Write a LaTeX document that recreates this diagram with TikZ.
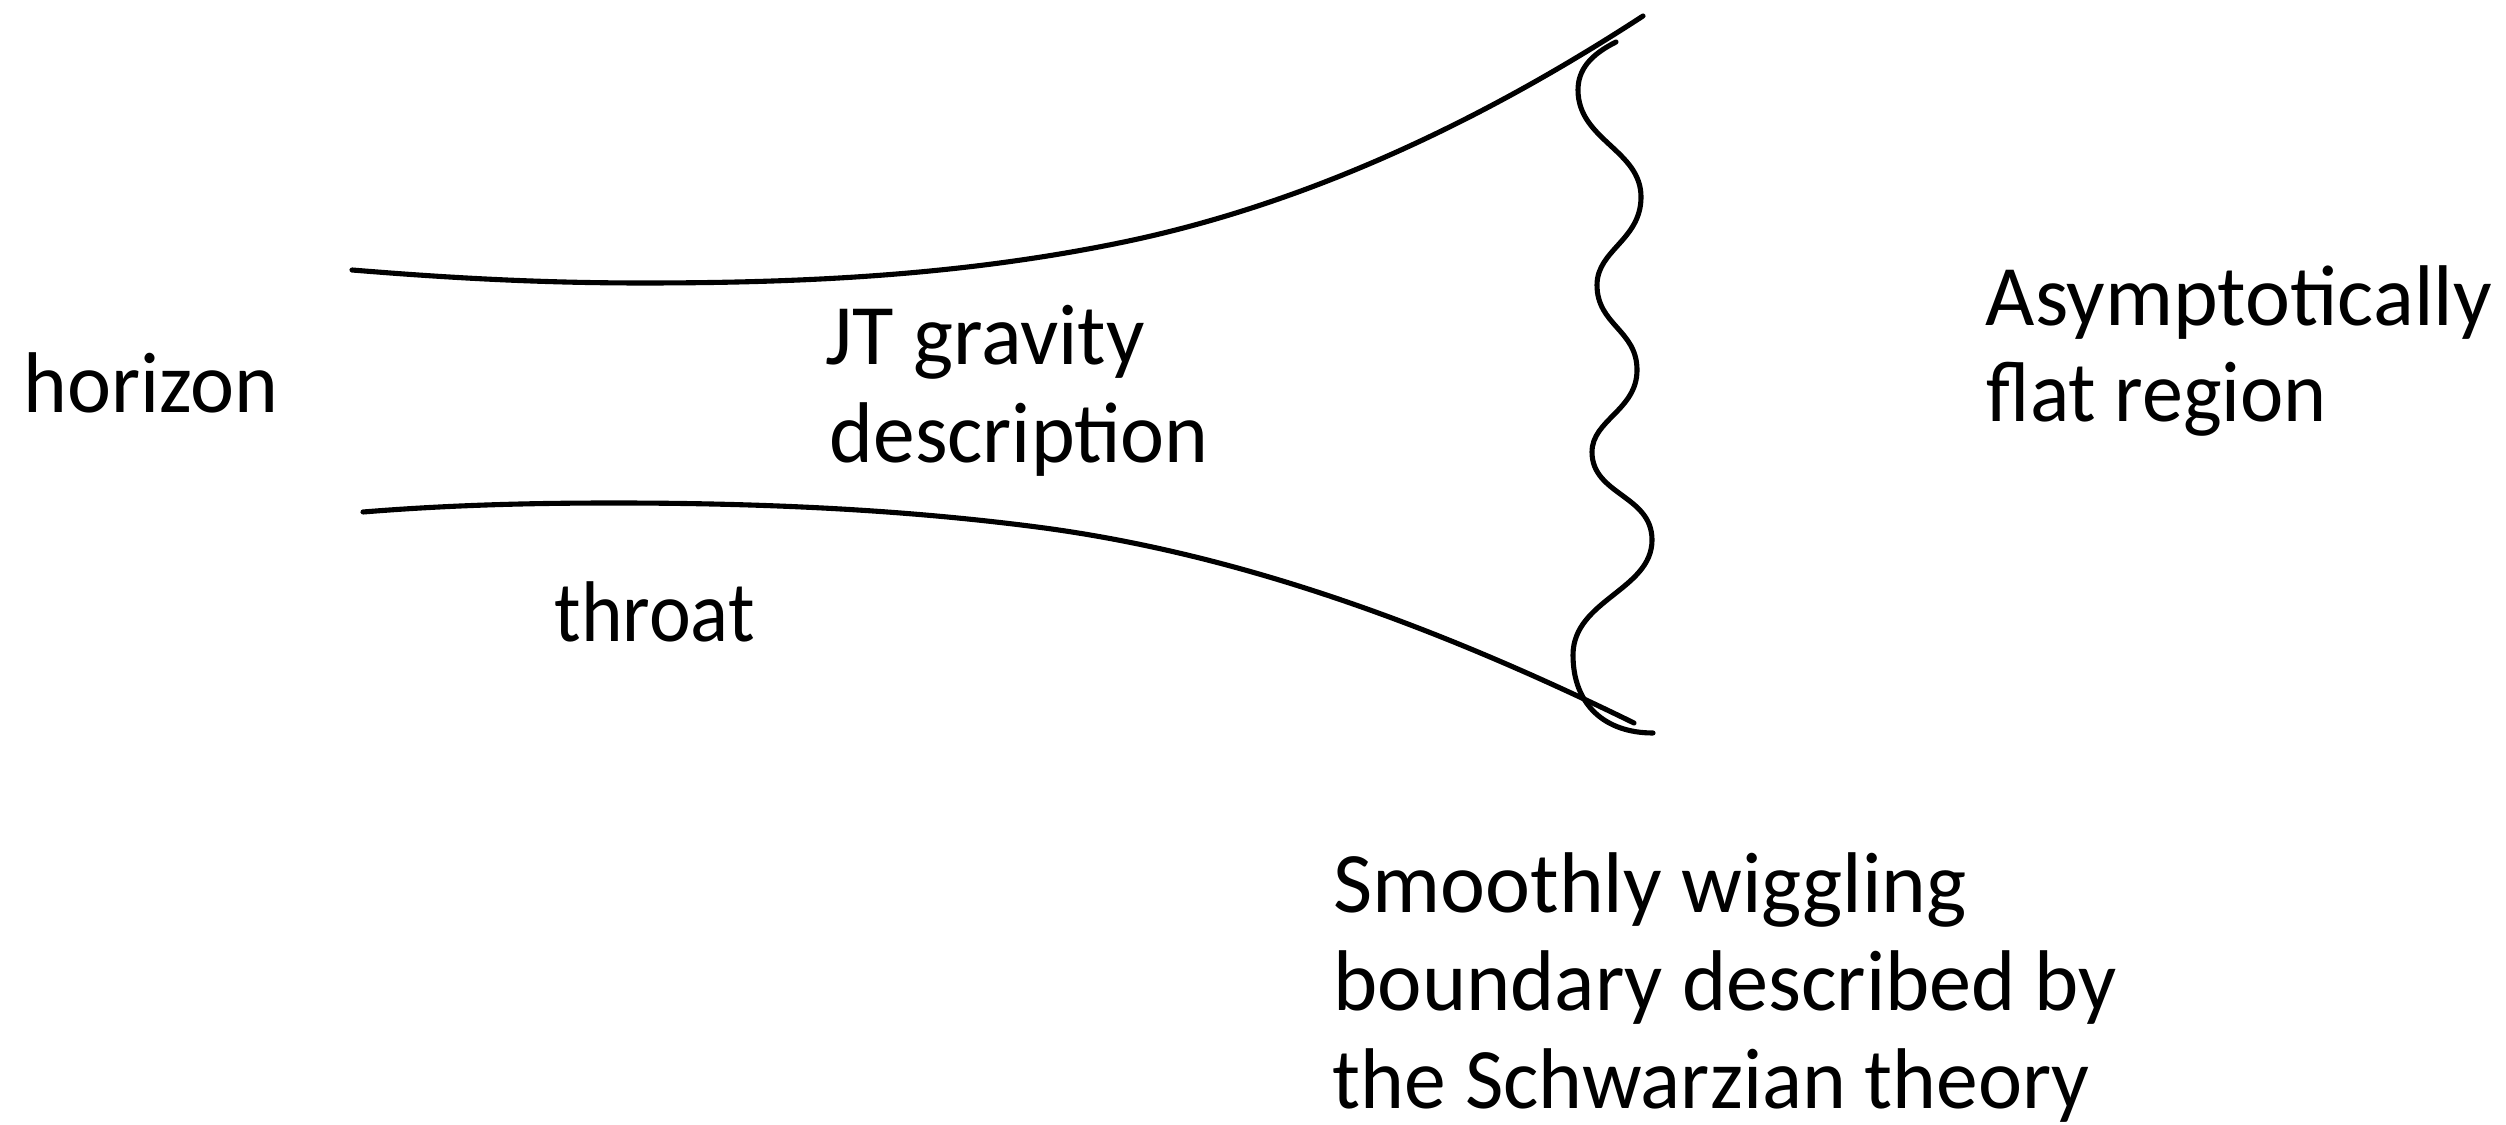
\documentclass[tikz,border=0pt]{standalone}
\usepackage{fontspec}
\setmainfont{Carlito}
\usepackage{graphicx}
\newlength\pxu
\setlength\pxu{0.01cm}
\newcommand\fitw[2]{\resizebox{#1\pxu}{\height}{#2}}
\begin{document}
\begin{tikzpicture}[x=0.01cm,y=-0.01cm,
  curve/.style={line width=1.45pt, line cap=round, line join=round},
  lbl/.style={anchor=base west, inner sep=0pt, font=\fontsize{24.5pt}{27.6pt}\selectfont}]
\useasboundingbox (0,0) rectangle (2506,1125);
% upper wall of the throat
\draw[curve] (352,270) .. controls (450,278) and (540,283) .. (643,283)
  .. controls (803,283) and (959,275.6) .. (1119,243)
  .. controls (1294,207.3) and (1468,130) .. (1643,16);
% lower wall of the throat
\draw[curve] (363,512) .. controls (450,505) and (530,503) .. (614,503)
  .. controls (755,503) and (897,508.8) .. (1037,527)
  .. controls (1237,553) and (1434,625) .. (1634,723);
% wiggling boundary
\draw[curve] (1616,42) .. controls (1590,55) and (1578,70) .. (1578,90)
  .. controls (1578,140) and (1641,150) .. (1641,197)
  .. controls (1641,240) and (1597,250) .. (1597,285)
  .. controls (1597,325) and (1637,330) .. (1637,370)
  .. controls (1637,410) and (1592,420) .. (1592,452)
  .. controls (1592,495) and (1652,495) .. (1652,540)
  .. controls (1652,590) and (1573,600) .. (1573,655)
  .. controls (1573,705) and (1605,733) .. (1653,733);
% labels
\node[lbl] (horizon) at (23,413) {\fitw{255}{horizon}};
\node[lbl] (jt1) at (825,365) {\fitw{319}{JT gravity}};
\node[lbl] (jt2) at (829,463) {\fitw{379}{description}};
\node[lbl] (throat) at (554,642) {\fitw{200}{throat}};
\node[lbl] (af1) at (1985,326) {\fitw{506}{Asymptotically}};
\node[lbl] (af2) at (1986,422) {\fitw{340}{flat region}};
\node[lbl] (sw1) at (1333,912) {\fitw{633}{Smoothly wiggling}};
\node[lbl] (sw2) at (1333,1010) {\fitw{783}{boundary described by}};
\node[lbl] (sw3) at (1332,1108) {\fitw{757}{the Schwarzian theory}};
\end{tikzpicture}
\end{document}
